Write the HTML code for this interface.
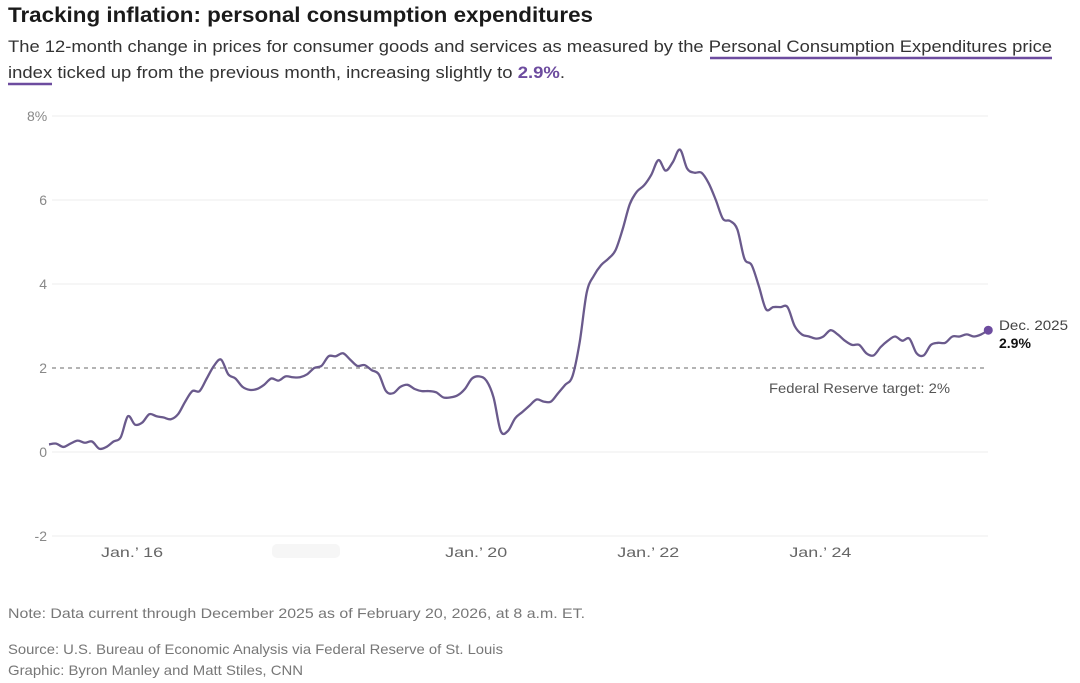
<!DOCTYPE html>
<html><head><meta charset="utf-8"><style>
html,body{margin:0;padding:0;background:#fff;}
svg{display:block;font-family:"Liberation Sans",Arial,sans-serif;}
</style></head><body>
<svg id="chart" width="1080" height="683" viewBox="0 0 1080 683">
<text x="8" y="22" font-size="21" font-weight="bold" fill="#1a1a1a" textLength="585" lengthAdjust="spacingAndGlyphs">Tracking inflation: personal consumption expenditures</text>
<text x="8" y="52" font-size="17" fill="#333" textLength="1044" lengthAdjust="spacingAndGlyphs">The 12-month change in prices for consumer goods and services as measured by the Personal Consumption Expenditures price</text>
<line x1="710" y1="58" x2="1052" y2="58" stroke="#6d4c9f" stroke-width="2.5"/>
<text x="8" y="78" font-size="17" fill="#333" textLength="557" lengthAdjust="spacingAndGlyphs">index ticked up from the previous month, increasing slightly to <tspan font-weight="bold" fill="#6d4c9f">2.9%</tspan>.</text>
<line x1="8" y1="84" x2="52" y2="84" stroke="#6d4c9f" stroke-width="2.5"/>
<g id="grid"></g>
<g id="xaxis"></g>
<rect x="272" y="544" width="68" height="14" fill="#f6f6f6" rx="5"/>
<path id="line" fill="none" stroke="#6a5a8c" stroke-width="2.3" stroke-linejoin="round"/>
<circle id="dot" r="4.5" fill="#6d4c9f"/>
<text x="999" y="330" font-size="14" fill="#444" textLength="69" lengthAdjust="spacingAndGlyphs">Dec. 2025</text>
<text x="999" y="348" font-size="14" font-weight="bold" fill="#111">2.9%</text>
<text x="769" y="393" font-size="14" fill="#555" textLength="181" lengthAdjust="spacingAndGlyphs">Federal Reserve target: 2%</text>
<text x="8" y="618" font-size="14" fill="#777" textLength="577" lengthAdjust="spacingAndGlyphs">Note: Data current through December 2025 as of February 20, 2026, at 8 a.m. ET.</text>
<text x="8" y="654" font-size="14" fill="#777" textLength="495" lengthAdjust="spacingAndGlyphs">Source: U.S. Bureau of Economic Analysis via Federal Reserve of St. Louis</text>
<text x="8" y="675" font-size="14" fill="#777" textLength="295" lengthAdjust="spacingAndGlyphs">Graphic: Byron Manley and Matt Stiles, CNN</text>
</svg>
<script>
const startYear = 2015;
const values = [0.18,0.2,0.12,0.2,0.27,0.22,0.25,0.08,0.12,0.25,0.35,0.85,
0.65,0.7,0.9,0.85,0.82,0.78,0.9,1.2,1.45,1.45,1.75,2.05,
2.2,1.85,1.75,1.55,1.48,1.5,1.6,1.75,1.7,1.8,1.78,1.78,
1.85,2.0,2.05,2.28,2.28,2.35,2.2,2.05,2.07,1.95,1.85,1.45,
1.4,1.55,1.6,1.5,1.45,1.45,1.42,1.3,1.3,1.35,1.5,1.75,
1.8,1.7,1.3,0.5,0.5,0.8,0.95,1.1,1.25,1.2,1.2,1.4,
1.6,1.8,2.6,3.8,4.2,4.45,4.6,4.8,5.3,5.9,6.2,6.35,
6.6,6.95,6.7,6.9,7.2,6.75,6.65,6.65,6.4,6.0,5.55,5.5,
5.3,4.6,4.45,3.95,3.4,3.45,3.45,3.45,3.0,2.8,2.75,2.7,
2.75,2.9,2.8,2.65,2.55,2.55,2.35,2.3,2.5,2.65,2.75,2.65,
2.7,2.35,2.3,2.55,2.6,2.6,2.75,2.75,2.8,2.75,2.8,2.9];
const yTicks = [-2,0,2,4,6,8];
const yTickLabels = ["-2","0","2","4","6","8%"];
const xTickYears = [2016,2020,2022,2024];
const xTickLabels = ["Jan.\u2019 16","Jan.\u2019 20","Jan.\u2019 22","Jan.\u2019 24"];
const targetValue = 2;

const NS="http://www.w3.org/2000/svg";
const x0=49, pxPerMonth=7.17;
const xs = m => x0 + m*pxPerMonth;
const ys = v => 452 - v*42;
const grid=document.getElementById('grid');
yTicks.forEach((t,i)=>{
  const y=ys(t);
  const l=document.createElementNS(NS,'line');
  
  
  l.setAttribute('x1',52);l.setAttribute('x2',988);l.setAttribute('y1',y);l.setAttribute('y2',y);
  if(t===targetValue){l.setAttribute('stroke','#888');l.setAttribute('stroke-dasharray','4 4');l.setAttribute('stroke-width','1.2');}
  else{l.setAttribute('stroke','#ececec');l.setAttribute('stroke-width','1');}
  grid.appendChild(l);
  const tx=document.createElementNS(NS,'text');
  
  
  tx.setAttribute('x',t===8?27:47);tx.setAttribute('y',y+5);
  tx.setAttribute('text-anchor',t===8?'start':'end');
  tx.setAttribute('font-size','14');tx.setAttribute('fill','#888');
  tx.textContent=yTickLabels[i];grid.appendChild(tx);
});
const xa=document.getElementById('xaxis');
xTickYears.forEach((yr,i)=>{
  const tx=document.createElementNS(NS,'text');
  
  
  tx.setAttribute('x',xs((yr-startYear)*12)-34);tx.setAttribute('y',557);
  tx.setAttribute('font-size','14');tx.setAttribute('fill','#666');
  tx.setAttribute('textLength','62');tx.setAttribute('lengthAdjust','spacingAndGlyphs');
  tx.textContent=xTickLabels[i];xa.appendChild(tx);
});
const pts=values.map((v,i)=>[xs(i),ys(v)]);
let d='M'+pts[0][0]+','+pts[0][1];
for(let i=0;i<pts.length-1;i++){
  const p0=pts[Math.max(0,i-1)],p1=pts[i],p2=pts[i+1],p3=pts[Math.min(pts.length-1,i+2)];
  const c1=[p1[0]+(p2[0]-p0[0])/6,p1[1]+(p2[1]-p0[1])/6];
  const c2=[p2[0]-(p3[0]-p1[0])/6,p2[1]-(p3[1]-p1[1])/6];
  d+=' C'+c1.join(',')+' '+c2.join(',')+' '+p2.join(',');
}
document.getElementById('line').setAttribute('d',d);
const last=pts[pts.length-1];
const dot=document.getElementById('dot');
dot.setAttribute('cx',last[0]);dot.setAttribute('cy',last[1]);
</script>
</body></html>
